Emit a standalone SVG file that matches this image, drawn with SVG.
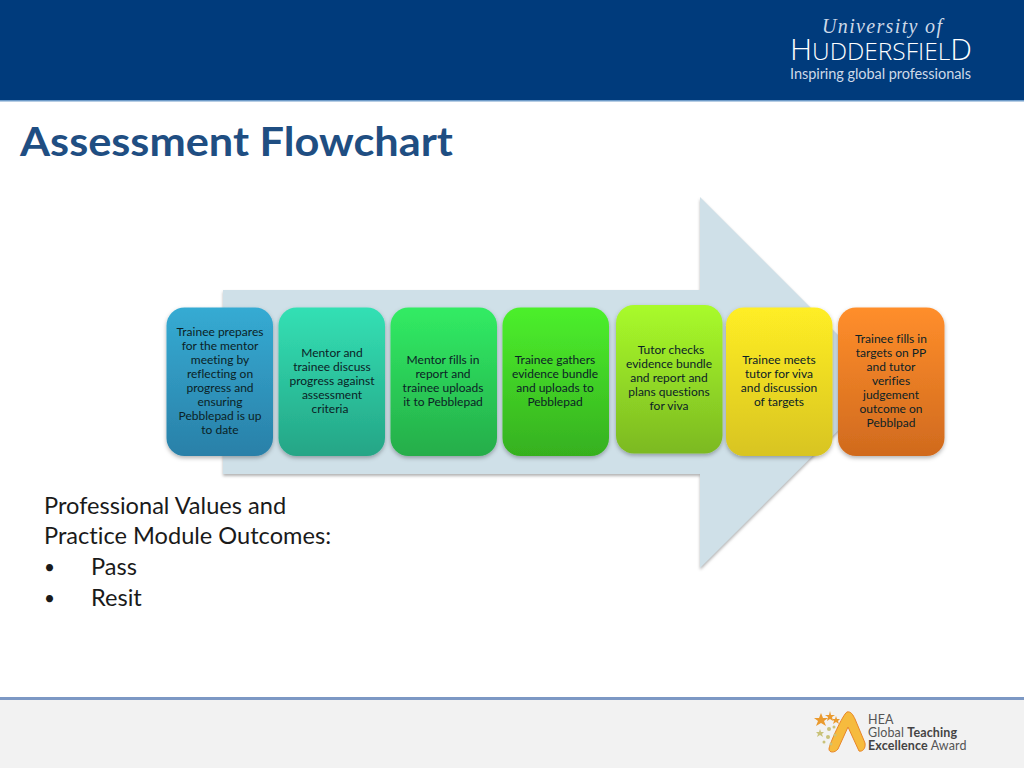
<svg xmlns="http://www.w3.org/2000/svg" width="1024" height="768" viewBox="0 0 1024 768">
<style>
text{font-family:Lato,"Open Sans","Liberation Sans",sans-serif;font-variant-ligatures:none}
.n{font-size:12px;fill:#0b2226;text-anchor:middle}
.b{font-size:23.600px;fill:#1a1a1a}
.d{font-size:19px;fill:#1a1a1a}
.box{filter:url(#sh)}
.logo{fill:#cdd9e8}
.hea{font-size:12.500px;fill:#555;letter-spacing:.12px}
</style>
<defs>
<filter id="sh" x="-10%" y="-10%" width="120%" height="120%"><feDropShadow dx="0" dy="2" stdDeviation="2" flood-color="#000" flood-opacity=".3"/></filter>
<linearGradient id="g1" x1="0" y1="0" x2="0" y2="1"><stop offset="0" stop-color="#35abd3"/><stop offset="1" stop-color="#2a80a8"/></linearGradient>
<linearGradient id="g2" x1="0" y1="0" x2="0" y2="1"><stop offset="0" stop-color="#33e0b4"/><stop offset="1" stop-color="#25a586"/></linearGradient>
<linearGradient id="g3" x1="0" y1="0" x2="0" y2="1"><stop offset="0" stop-color="#31ec64"/><stop offset="1" stop-color="#25ad4a"/></linearGradient>
<linearGradient id="g4" x1="0" y1="0" x2="0" y2="1"><stop offset="0" stop-color="#4cf02c"/><stop offset="1" stop-color="#36b01f"/></linearGradient>
<linearGradient id="g5" x1="0" y1="0" x2="0" y2="1"><stop offset="0" stop-color="#a9fb2a"/><stop offset="1" stop-color="#7cb922"/></linearGradient>
<linearGradient id="g6" x1="0" y1="0" x2="0" y2="1"><stop offset="0" stop-color="#ffee25"/><stop offset="1" stop-color="#d8c421"/></linearGradient>
<linearGradient id="g7" x1="0" y1="0" x2="0" y2="1"><stop offset="0" stop-color="#ff8e2b"/><stop offset="1" stop-color="#d06a1e"/></linearGradient>
</defs>
<rect width="1024" height="768" fill="#fff"/>
<rect width="1024" height="100" fill="#003b7c"/>
<rect y="100" width="1024" height="1.500" fill="#6f9cc9"/>
<rect y="699" width="1024" height="69" fill="#f2f2f2"/>
<rect y="697" width="1024" height="3" fill="#7c98c4"/>
<g id="uni-logo">
<text x="822" y="33" font-size="20" style="font-family:'Liberation Serif',serif;font-style:italic" class="logo" textLength="120">University of</text>
<text x="790" y="60" font-size="29.500" style="font-family:'Open Sans',sans-serif;font-weight:300" fill="#fff" textLength="182" lengthAdjust="spacingAndGlyphs">H<tspan font-size="23.500">UDDERSFIEL</tspan>D</text>
<text x="790" y="79" font-size="14.500" class="logo" textLength="181">Inspiring global professionals</text>
</g>
<text x="20" y="156" font-size="40" font-weight="700" fill="#1f4e82" textLength="433" lengthAdjust="spacingAndGlyphs">Assessment Flowchart</text>
<path id="arrow" d="M223 290H700V197L886 383L700 568V474H223Z" fill="#cfe0e8" style="filter:drop-shadow(0 2px 1.500px rgba(0,0,0,.3))"/>
<g id="connectors"></g>
<g id="n1"><rect class="box" x="166.500" y="307.500" width="106.500" height="148.500" rx="18" fill="url(#g1)"/>
<text class="n"><tspan x="220" y="336">Trainee prepares</tspan><tspan x="220" y="350">for the mentor</tspan><tspan x="220" y="364">meeting by</tspan><tspan x="220" y="378">reflecting on</tspan><tspan x="220" y="392">progress and</tspan><tspan x="220" y="406">ensuring</tspan><tspan x="220" y="420">Pebblepad is up</tspan><tspan x="220" y="434">to date</tspan></text></g>
<g id="n2"><rect class="box" x="278.500" y="307.500" width="106.500" height="148.500" rx="18" fill="url(#g2)"/>
<text class="n"><tspan x="332" y="357">Mentor and</tspan><tspan x="332" y="371">trainee discuss</tspan><tspan x="332" y="385">progress against</tspan><tspan x="332" y="399">assessment</tspan><tspan x="330" y="413">criteria</tspan></text></g>
<g id="n3"><rect class="box" x="390.500" y="307.500" width="106.500" height="148.500" rx="18" fill="url(#g3)"/>
<text class="n"><tspan x="443" y="364">Mentor fills in</tspan><tspan x="443" y="378">report and</tspan><tspan x="443" y="392">trainee uploads</tspan><tspan x="443" y="406">it to Pebblepad</tspan></text></g>
<g id="n4"><rect class="box" x="502.500" y="307.500" width="106.500" height="148.500" rx="18" fill="url(#g4)"/>
<text class="n"><tspan x="555" y="364">Trainee gathers</tspan><tspan x="555" y="378">evidence bundle</tspan><tspan x="555" y="392">and uploads to</tspan><tspan x="555" y="406">Pebblepad</tspan></text></g>
<g id="n5"><rect class="box" x="616" y="305" width="106.500" height="148.500" rx="18" fill="url(#g5)"/>
<text class="n"><tspan x="671" y="354">Tutor checks</tspan><tspan x="669" y="368">evidence bundle</tspan><tspan x="669" y="382">and report and</tspan><tspan x="669" y="396">plans questions</tspan><tspan x="669" y="410">for viva</tspan></text></g>
<g id="n6"><rect class="box" x="726" y="307.500" width="106.500" height="148.500" rx="18" fill="url(#g6)"/>
<text class="n"><tspan x="779" y="364">Trainee meets</tspan><tspan x="779" y="378">tutor for viva</tspan><tspan x="779" y="392">and discussion</tspan><tspan x="779" y="406">of targets</tspan></text></g>
<g id="n7"><rect class="box" x="838" y="307.500" width="106.500" height="148.500" rx="18" fill="url(#g7)"/>
<text class="n"><tspan x="891" y="343">Trainee fills in</tspan><tspan x="891" y="357">targets on PP</tspan><tspan x="891" y="371">and tutor</tspan><tspan x="891" y="385">verifies</tspan><tspan x="891" y="399">judgement</tspan><tspan x="891" y="413">outcome on</tspan><tspan x="891" y="427">Pebblpad</tspan></text></g>
<g id="outcomes">
<text class="b" x="44" y="514">Professional Values and</text>
<text class="b" x="44" y="544">Practice Module Outcomes:</text>
<text class="d" x="44" y="574">•</text><text class="b" x="91" y="575">Pass</text>
<text class="d" x="44" y="605">•</text><text class="b" x="91" y="606">Resit</text>
</g>
<g id="hea-logo">
<path d="M829 749C829 745 843 714 847 712C851 711 853 715 855 719L865 743C866 749 862 752 859 751L848 727L838 749C835 753 829 753 829 749Z" fill="#f6bb3e" stroke="#e8862a" stroke-width="1"/>
<g fill="#ea9a2e"><path d="M821 713l2 5 5 0-4 3 2 5-5-3-5 3 2-5-4-3 5 0Z"/><path d="M830 711l1 4 4 0-3 2 1 4-3-2-3 2 1-4-3-2 4 0Z"/><path d="M836 716l1 3 3 0-2 2 1 3-3-2-3 2 1-3-2-2 3 0Z"/></g>
<g fill="#c9c27a"><path d="M820 729l1 3 3 0-2 2 1 3-3-2-3 2 1-3-2-2 3 0Z"/><circle cx="829" cy="729" r="2"/><circle cx="834" cy="727" r="1.500"/><circle cx="828" cy="737" r="2"/><circle cx="824" cy="742" r="1.500"/><circle cx="831" cy="744" r="1.500"/><circle cx="835" cy="735" r="1.500"/></g>
<text class="hea" x="868" y="724">HEA</text>
<text class="hea" x="868" y="737">Global <tspan font-weight="700" fill="#444">Teaching</tspan></text>
<text class="hea" x="868" y="750"><tspan font-weight="700" fill="#444">Excellence</tspan> Award</text>
</g>
</svg>
